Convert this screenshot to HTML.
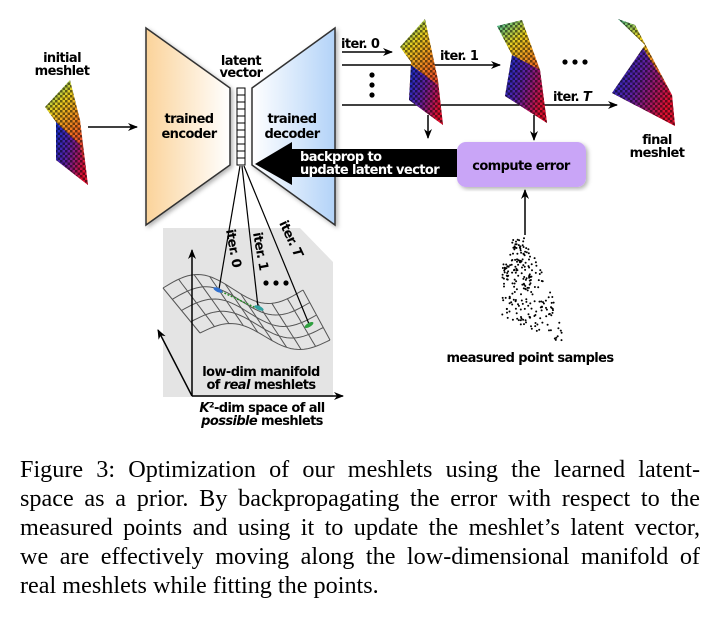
<!DOCTYPE html>
<html><head><meta charset="utf-8"><style>
body{margin:0;width:720px;height:625px;background:#fff;overflow:hidden;position:relative}
svg{position:absolute;left:0;top:0}
.t{font-family:"DejaVu Sans","Liberation Sans",sans-serif;font-weight:bold;font-size:13px;letter-spacing:-0.6px}
#cap{position:absolute;left:20px;top:455px;width:680px;font-family:"Liberation Serif",serif;font-size:24.2px;line-height:29px;color:#000}
#cap div{text-align:justify;text-align-last:justify;white-space:nowrap}
#cap div.l{text-align-last:left}
</style></head><body>
<svg width="720" height="450" viewBox="0 0 720 450" xmlns="http://www.w3.org/2000/svg">
<defs>
<linearGradient id="enc" x1="0" x2="1"><stop offset="0" stop-color="#fbd39a"/><stop offset="1" stop-color="#fff"/></linearGradient>
<linearGradient id="dec" x1="0" x2="1"><stop offset="0" stop-color="#fff"/><stop offset="1" stop-color="#b3d3f8"/></linearGradient>
<linearGradient id="mg" x1="0" y1="0" x2="0.4" y2="1"><stop offset="0" stop-color="#30b8a0"/><stop offset="0.3" stop-color="#e8d020"/><stop offset="0.65" stop-color="#f07020"/><stop offset="1" stop-color="#e02040"/></linearGradient>
<linearGradient id="mg2" x1="0" y1="0" x2="1" y2="0.5"><stop offset="0" stop-color="#1030d0"/><stop offset="0.5" stop-color="#6020a0"/><stop offset="1" stop-color="#e01030"/></linearGradient>
<pattern id="chk" width="5" height="5" patternUnits="userSpaceOnUse"><rect width="2.5" height="2.5" fill="#000"/><rect x="2.5" y="2.5" width="2.5" height="2.5" fill="#000"/></pattern>
<marker id="ah" markerWidth="10" markerHeight="8" refX="9" refY="4" orient="auto" markerUnits="userSpaceOnUse"><path d="M0,0 L10,4 L0,8 L3,4z" fill="#000"/></marker>
<filter id="sh"><feDropShadow dx="2" dy="2" stdDeviation="2" flood-opacity="0.3"/></filter>
</defs>
<g>
<polygon points="70,80 45,107 56,122 56,160 88,185 80,120" fill="url(#mg)"/>
<polygon points="56,122 56,160 88,185 80,145" fill="url(#mg2)"/>
<polygon points="70,80 45,107 56,122 56,160 88,185 80,120" fill="url(#chk)" opacity="0.55"/>
</g>
<text class="t" x="62" y="62" text-anchor="middle">initial</text>
<text class="t" x="62" y="75" text-anchor="middle">meshlet</text>
<line x1="88" y1="127" x2="137" y2="127" stroke="#000" stroke-width="1.5" marker-end="url(#ah)"/>
<polygon points="146,28 230,88 230,165 146,225" fill="url(#enc)" stroke="#333" stroke-width="1.5" filter="url(#sh)"/>
<polygon points="252,88 335,28 335,225 252,165" fill="url(#dec)" stroke="#333" stroke-width="1.5" filter="url(#sh)"/>
<text class="t" x="189" y="123" text-anchor="middle" font-size="14">trained</text>
<text class="t" x="189" y="138" text-anchor="middle" font-size="14">encoder</text>
<text class="t" x="292" y="123" text-anchor="middle" font-size="14">trained</text>
<text class="t" x="292" y="138" text-anchor="middle" font-size="14">decoder</text>
<text class="t" x="241" y="65" text-anchor="middle">latent</text>
<text class="t" x="241" y="77" text-anchor="middle">vector</text>
<g id="lv" fill="#fff" stroke="#000" stroke-width="1"></g>
<polygon points="255,164 292,142 292,149 457,149 457,177 292,177 292,185" fill="#000"/>
<text class="t" x="300" y="161" fill="#fff" font-size="13">backprop to</text>
<text class="t" x="300" y="174" fill="#fff" font-size="13">update latent vector</text>
<rect x="457" y="142" width="129" height="45" rx="9" fill="#c9a5f7" filter="url(#sh)"/>
<text class="t" x="521" y="170" text-anchor="middle" font-size="13">compute error</text>
<line x1="342" y1="52" x2="392" y2="52" stroke="#000" stroke-width="1.5" marker-end="url(#ah)"/>
<line x1="342" y1="65" x2="500" y2="65" stroke="#000" stroke-width="1.5" marker-end="url(#ah)"/>
<line x1="342" y1="105" x2="617" y2="105" stroke="#000" stroke-width="1.5" marker-end="url(#ah)"/>
<text class="t" x="341" y="48">iter. 0</text>
<text class="t" x="440" y="60">iter. 1</text>
<text class="t" x="553" y="101">iter. <tspan font-style="italic">T</tspan></text>
<circle cx="372" cy="75" r="2.6"/><circle cx="372" cy="85" r="2.6"/><circle cx="372" cy="95" r="2.6"/>
<circle cx="565" cy="62" r="2.6"/><circle cx="575" cy="62" r="2.6"/><circle cx="585" cy="62" r="2.6"/>
<g>
<polygon points="425,19 400,47 411,62 409,100 443,125 438,80" fill="url(#mg)"/>
<polygon points="411,65 409,100 443,125 438,85" fill="url(#mg2)"/>
<polygon points="425,19 400,47 411,62 409,100 443,125 438,80" fill="url(#chk)" opacity="0.55"/>
</g>
<g>
<polygon points="497,26 522,20 540,70 547,123 505,96 512,55" fill="url(#mg)"/>
<polygon points="512,55 505,96 547,123 540,70" fill="url(#mg2)"/>
<polygon points="497,26 522,20 540,70 547,123 505,96 512,55" fill="url(#chk)" opacity="0.55"/>
</g>
<g>
<polygon points="618,19 635,25 672,95 675,126 612,93 645,45" fill="url(#mg)"/>
<polygon points="612,93 643,48 672,95 675,126" fill="url(#mg2)"/>
<polygon points="618,19 635,25 672,95 675,126 612,93 645,45" fill="url(#chk)" opacity="0.55"/>
</g>
<text class="t" x="657" y="144" text-anchor="middle">final</text>
<text class="t" x="657" y="157" text-anchor="middle">meshlet</text>
<line x1="428" y1="115" x2="428" y2="138" stroke="#000" stroke-width="1.5" marker-end="url(#ah)"/>
<line x1="534" y1="115" x2="534" y2="140" stroke="#000" stroke-width="1.5" marker-end="url(#ah)"/>
<line x1="525" y1="235" x2="525" y2="190" stroke="#000" stroke-width="1.5" marker-end="url(#ah)"/>
<g id="pc" fill="#000"></g>
<text class="t" x="530" y="362" text-anchor="middle">measured point samples</text>
<polygon points="163,228 300,228 333,262 333,397 163,397" fill="#e4e4e4"/>
<g id="grid" fill="none" stroke="#555" stroke-width="1"></g>
<line x1="192" y1="396" x2="192" y2="250" stroke="#000" stroke-width="1.5" marker-end="url(#ah)"/>
<line x1="192" y1="396" x2="343" y2="396" stroke="#000" stroke-width="1.5" marker-end="url(#ah)"/>
<line x1="192" y1="396" x2="158" y2="330" stroke="#000" stroke-width="1.5" marker-end="url(#ah)"/>
<line x1="240" y1="166" x2="219" y2="289" stroke="#000" stroke-width="1.2"/>
<line x1="242" y1="166" x2="258" y2="307" stroke="#000" stroke-width="1.2"/>
<line x1="244" y1="166" x2="309" y2="324" stroke="#000" stroke-width="1.2"/>
<line x1="218" y1="290" x2="256" y2="308" stroke="#2a8a2a" stroke-width="1.5" stroke-dasharray="2,1.5"/>
<ellipse cx="218" cy="290" rx="5" ry="2" fill="#3070d0" transform="rotate(25 218 290)"/>
<ellipse cx="259" cy="308" rx="5" ry="2" fill="#30a0a0" transform="rotate(25 259 308)"/>
<ellipse cx="309" cy="325" rx="5" ry="2" fill="#30a040" transform="rotate(-30 309 325)"/>
<text class="t" transform="translate(226,230) rotate(80)">iter. 0</text>
<text class="t" transform="translate(253,233) rotate(80)">iter. 1</text>
<text class="t" transform="translate(279,223) rotate(65)">iter. <tspan font-style="italic">T</tspan></text>
<circle cx="266" cy="283" r="2.6"/><circle cx="276" cy="283" r="2.6"/><circle cx="286" cy="283" r="2.6"/>
<text class="t" x="261" y="376" text-anchor="middle">low-dim manifold</text>
<text class="t" x="261" y="389" text-anchor="middle">of <tspan font-style="italic">real</tspan> meshlets</text>
<text class="t" x="262" y="412" text-anchor="middle"><tspan font-style="italic">K</tspan>²-dim space of all</text>
<text class="t" x="262" y="425" text-anchor="middle"><tspan font-style="italic">possible</tspan> meshlets</text>
</svg>
<div id="cap">
<div>Figure 3: Optimization of our meshlets using the learned latent-</div>
<div>space as a prior. By backpropagating the error with respect to the</div>
<div>measured points and using it to update the meshlet’s latent vector,</div>
<div>we are effectively moving along the low-dimensional manifold of</div>
<div class="l">real meshlets while fitting the points.</div>
</div>
<script>
var NS="http://www.w3.org/2000/svg";
function el(p,n,a){var e=document.createElementNS(NS,n);for(var k in a)e.setAttribute(k,a[k]);p.appendChild(e);return e;}
var lv=document.getElementById('lv');
for(var i=0;i<11;i++)el(lv,'rect',{x:237,y:88+i*7,width:8,height:7});
function P(u,v){var A=[163,288],B=[303,290],C=[330,340],D=[200,333];
var x=(1-u)*(1-v)*A[0]+u*(1-v)*B[0]+u*v*C[0]+(1-u)*v*D[0];
var y=(1-u)*(1-v)*A[1]+u*(1-v)*B[1]+u*v*C[1]+(1-u)*v*D[1];
y-=14*Math.sin(2*Math.PI*u)*(1-0.2*v);return [x,y];}
var g=document.getElementById('grid');
for(var j=0;j<=4;j++){var d='';for(var k=0;k<=40;k++){var p=P(k/40,j/4);d+=(k?'L':'M')+p[0].toFixed(1)+','+p[1].toFixed(1);}el(g,'path',{d:d});}
for(var j=0;j<=9;j++){var d='';for(var k=0;k<=10;k++){var p=P(j/9,k/10);d+=(k?'L':'M')+p[0].toFixed(1)+','+p[1].toFixed(1);}el(g,'path',{d:d});}
var pc=document.getElementById('pc');var s=7;function r(){s=(s*9301+49297)%233280;return s/233280;}
function Q(u,v){var A=[503,241],B=[525,238],C=[566,345],D=[502,316];
var x=(1-u)*(1-v)*A[0]+u*(1-v)*B[0]+u*v*C[0]+(1-u)*v*D[0];var y=(1-u)*(1-v)*A[1]+u*(1-v)*B[1]+u*v*C[1]+(1-u)*v*D[1];
x+=6*Math.sin(Math.PI*v)*u;return [x,y];}
for(var i=0;i<260;i++){var u=r(),v=r();if(v<0.3&&u<0.45&&(u+v)<0.4)continue;var p=Q(u,v);el(pc,'circle',{cx:p[0].toFixed(1),cy:p[1].toFixed(1),r:1});}
</script>
</body></html>
